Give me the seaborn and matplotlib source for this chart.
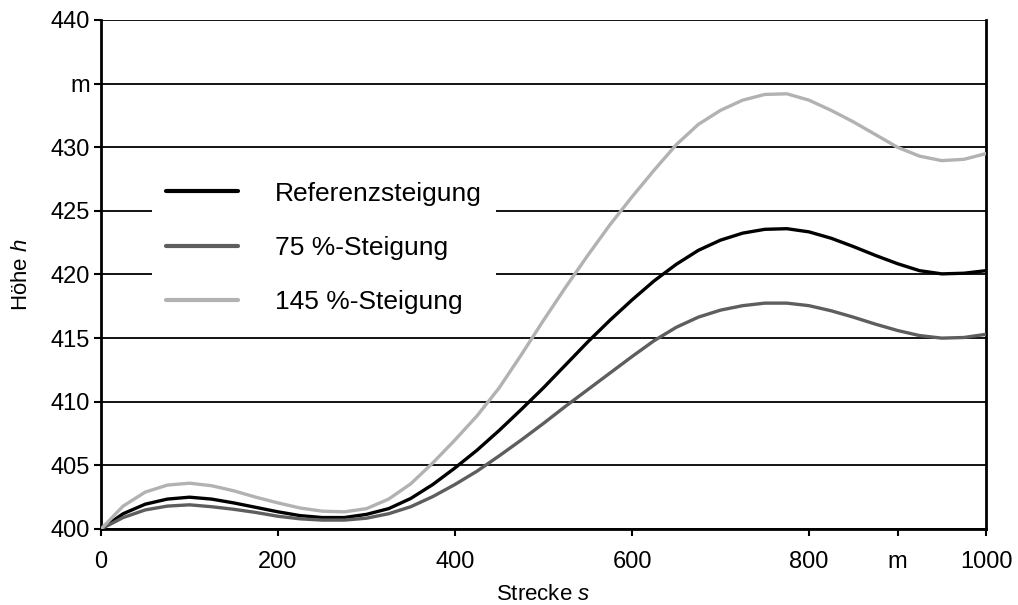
import numpy as np
import pandas as pd
import matplotlib
matplotlib.use("Agg")
import matplotlib.pyplot as plt
import seaborn as sns

# distance along route (m)
strecke = [0, 25, 50, 75, 100, 125, 150, 175, 200, 225, 250, 275, 300, 325, 350,
           375, 400, 425, 450, 475, 500, 525, 550, 575, 600, 625, 650, 675, 700,
           725, 750, 775, 800, 825, 850, 875, 900, 925, 950, 975, 1000]

hoehe_referenz = [400.0, 401.2, 401.95, 402.35, 402.5, 402.35, 402.05, 401.7, 401.35,
                  401.05, 400.9, 400.9, 401.15, 401.6, 402.4, 403.5, 404.8, 406.2,
                  407.75, 409.4, 411.1, 412.9, 414.7, 416.4, 418.0, 419.5, 420.8,
                  421.9, 422.7, 423.25, 423.55, 423.6, 423.35, 422.85, 422.2, 421.5,
                  420.85, 420.3, 420.05, 420.1, 420.3]

hoehe_75 = [400.0, 400.9, 401.5, 401.8, 401.9, 401.75, 401.55, 401.3, 401.0,
            400.8, 400.7, 400.7, 400.85, 401.2, 401.75, 402.55, 403.5, 404.55,
            405.75, 407.0, 408.3, 409.65, 410.95, 412.25, 413.55, 414.8, 415.85,
            416.65, 417.2, 417.55, 417.75, 417.75, 417.55, 417.15, 416.65, 416.1,
            415.6, 415.2, 415.0, 415.05, 415.3]

hoehe_145 = [400.0, 401.8, 402.9, 403.45, 403.6, 403.4, 403.0, 402.5, 402.05,
             401.65, 401.4, 401.35, 401.6, 402.35, 403.55, 405.2, 407.0, 408.9,
             411.1, 413.7, 416.4, 419.0, 421.5, 423.9, 426.1, 428.2, 430.2,
             431.8, 432.9, 433.7, 434.15, 434.2, 433.7, 432.9, 432.0, 431.0,
             430.0, 429.3, 428.95, 429.05, 429.5]

serien = ["Referenzsteigung", "75 %-Steigung", "145 %-Steigung"]
farben = ["#000000", "#5e5e5e", "#b2b2b2"]

y_ticks = [400, 405, 410, 415, 420, 425, 430, 435, 440]
y_ticklabels = ["400", "405", "410", "415", "420", "425", "430", "m", "440"]
x_ticks = [0, 200, 400, 600, 800, 900, 1000]
x_ticklabels = ["0", "200", "400", "600", "800", "m", "1000"]

df = pd.concat([
    pd.DataFrame({"s": strecke, "h": hoehe_referenz, "Serie": serien[0]}),
    pd.DataFrame({"s": strecke, "h": hoehe_75, "Serie": serien[1]}),
    pd.DataFrame({"s": strecke, "h": hoehe_145, "Serie": serien[2]}),
], ignore_index=True)

sns.set_style("white")
plt.rcParams["font.family"] = ["Liberation Sans", "DejaVu Sans"]
plt.rcParams["mathtext.fontset"] = "custom"
plt.rcParams["mathtext.rm"] = "Liberation Sans"
plt.rcParams["mathtext.it"] = "Liberation Sans:italic"
plt.rcParams["text.color"] = "black"
plt.rcParams["axes.labelcolor"] = "black"
plt.rcParams["xtick.color"] = "black"
plt.rcParams["ytick.color"] = "black"

fig = plt.figure(figsize=(10.18, 6.05), dpi=100)
ax = fig.add_axes([101 / 1018, 1 - 529 / 605, 885 / 1018, 509 / 605])

sns.lineplot(data=df, x="s", y="h", hue="Serie", hue_order=serien,
             palette=dict(zip(serien, farben)), linewidth=2.4, ax=ax,
             legend=True, zorder=3)

ax.set_xlim(0, 1000)
ax.set_ylim(400, 440)
ax.set_yticks(y_ticks)
ax.set_yticklabels(y_ticklabels)
ax.set_xticks(x_ticks)
ax.set_xticklabels(x_ticklabels)
for t, v in zip(ax.xaxis.get_major_ticks(), x_ticks):
    if v == 900:
        t.tick1line.set_visible(False)

ax.yaxis.grid(True, color="black", linewidth=1.3)
ax.xaxis.grid(False)
ax.set_axisbelow(True)

for side in ["left", "bottom", "right"]:
    ax.spines[side].set_visible(True)
    ax.spines[side].set_color("black")
    ax.spines[side].set_linewidth(2.0)
ax.spines["top"].set_visible(False)

ax.tick_params(axis="both", which="major", direction="out", length=5, width=1.5,
               color="black", labelsize=17, labelcolor="black")
ax.tick_params(axis="y", left=True, pad=3)
ax.tick_params(axis="x", bottom=True, pad=11)

ax.set_xlabel("Strecke $s$", fontsize=16, labelpad=8)
ax.set_ylabel("Höhe $h$", fontsize=16, labelpad=13)

handles, labels = ax.get_legend_handles_labels()
leg = ax.legend(handles, labels, loc="upper left",
                bbox_to_anchor=((152 - 101) / 885, (529 - 168) / 509),
                borderaxespad=0, frameon=True, fancybox=False, fontsize=19,
                handlelength=2.75, handletextpad=1.4, labelspacing=1.14,
                borderpad=0.52)
leg.get_frame().set_facecolor("white")
leg.get_frame().set_edgecolor("none")
leg.get_frame().set_alpha(1.0)
for line in leg.get_lines():
    line.set_linewidth(3.0)
for txt in leg.get_texts():
    txt.set_color("black")
leg.set_zorder(5)

fig.savefig("out.png", dpi=100)
